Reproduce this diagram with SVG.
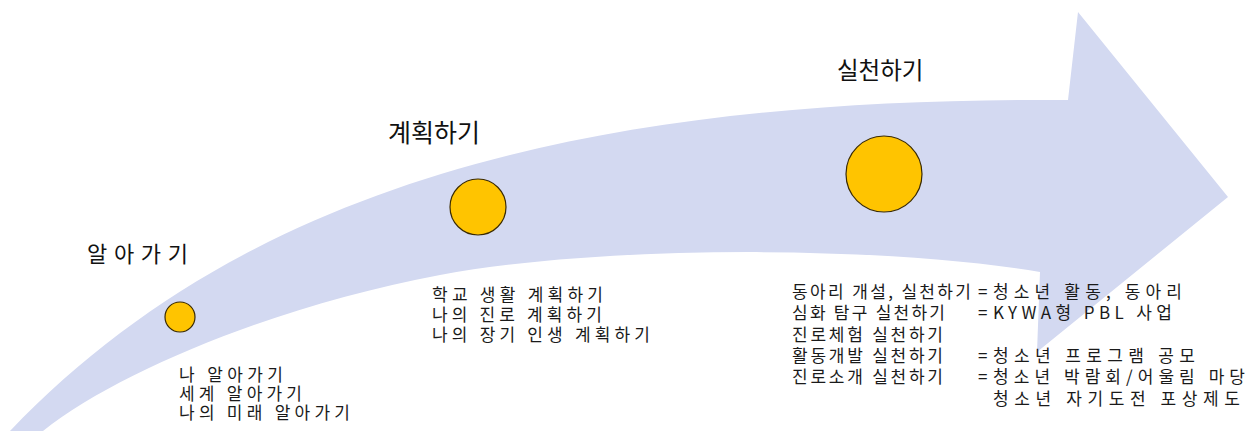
<svg xmlns="http://www.w3.org/2000/svg" width="1260" height="431" viewBox="0 0 1260 431">
  <style>
    .band { fill: #D3D9F1; stroke: none; }
    .dot { fill: #FFC400; stroke: #3A2A00; stroke-width: 1.2; }
    .title { font-family: "Noto Sans CJK KR", "Noto Sans", sans-serif; fill: #111; }
    .body { font-family: "Noto Sans CJK KR", "Noto Sans", sans-serif; font-size: 17px; fill: #1a1a1a; }
  </style>
  <rect width="1260" height="431" fill="#FFFFFF"/>
  <g id="connectors">
    <path id="arrow-band" class="band" d="M10,431 C250,180 600,97 1068,100 L1078,12 L1228,197 L1037,352 L1040,272 C880,245 600,245 440,275 C280,305 120,370 43,431 Z"/>
  </g>
  <g id="node-learn">
    <circle class="dot" cx="180" cy="317" r="15"/>
    <text class="title" x="87" y="262" font-size="22" textLength="101">알아가기</text>
    <text class="body">
      <tspan x="179" y="381" textLength="104">나 알아가기</tspan>
      <tspan x="179" y="400" textLength="123">세계 알아가기</tspan>
      <tspan x="179" y="419" textLength="171">나의 미래 알아가기</tspan>
    </text>
  </g>
  <g id="node-plan">
    <circle class="dot" cx="478" cy="207" r="28"/>
    <text class="title" x="388" y="142" font-size="25">계획하기</text>
    <text class="body">
      <tspan x="432" y="301" textLength="171">학교 생활 계획하기</tspan>
      <tspan x="432" y="321" textLength="170">나의 진로 계획하기</tspan>
      <tspan x="432" y="341" textLength="218">나의 장기 인생 계획하기</tspan>
    </text>
  </g>
  <g id="node-practice">
    <circle class="dot" cx="884" cy="174" r="38"/>
    <text class="title" x="837" y="79" font-size="23.5">실천하기</text>
    <text class="body">
      <tspan x="792" y="297.5" textLength="179">동아리 개설, 실천하기</tspan>
      <tspan x="978" y="297.5">=</tspan>
      <tspan x="993" y="297.5" textLength="189">청소년 활동, 동아리</tspan>
      <tspan x="792" y="319" textLength="153">심화 탐구 실천하기</tspan>
      <tspan x="978" y="319">=</tspan>
      <tspan x="993" y="319" textLength="179">KYWA형 PBL 사업</tspan>
      <tspan x="792" y="340.5" textLength="151">진로체험 실천하기</tspan>
      <tspan x="792" y="361.5" textLength="151">활동개발 실천하기</tspan>
      <tspan x="978" y="361.5">=</tspan>
      <tspan x="993" y="361.5" textLength="202">청소년 프로그램 공모</tspan>
      <tspan x="792" y="383" textLength="151">진로소개 실천하기</tspan>
      <tspan x="978" y="383">=</tspan>
      <tspan x="993" y="383" textLength="252">청소년 박람회/어울림 마당</tspan>
      <tspan x="993" y="404.5" textLength="247">청소년 자기도전 포상제도</tspan>
    </text>
  </g>
</svg>
